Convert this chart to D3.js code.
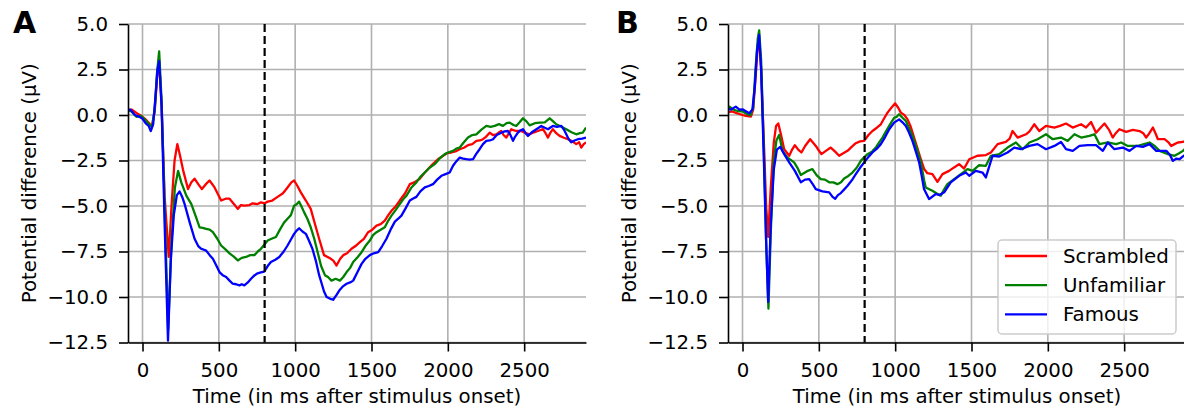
<!DOCTYPE html>
<html>
<head>
<meta charset="utf-8">
<script src="https://cdn.jsdelivr.net/npm/d3@7"></script>
<style>
  body { margin: 0; background: #fff; }
  svg { display: block; font-family: "DejaVu Sans", sans-serif; }
</style>
</head>
<body>
<svg width="1184" height="412"></svg>
<script>
const seriesNames = ["Scrambled", "Unfamiliar", "Famous"];
const seriesColors = ["#ff0000", "#008000", "#0000ff"];
const xTicks = [0, 500, 1000, 1500, 2000, 2500];
const yTicks = [5, 2.5, 0, -2.5, -5, -7.5, -10, -12.5];
const onsetMs = 800;

// panel A, [time in ms, µV]
const scrambledA = [[-100,0.25],[-72,0.3],[-28,0.05],[0,-0.1],[15,-0.2],[48,-0.5],[62,-0.6],[80,0.2],[95,2.0],[109,3.05],[125,0.5],[145,-4.5],[172,-7.8],[190,-5],[210,-2.5],[228,-1.6],[245,-2.2],[265,-3.0],[298,-4.07],[320,-3.7],[341,-3.5],[365,-3.8],[389,-4.07],[415,-3.8],[439,-3.6],[472,-3.98],[515,-4.7],[545,-4.6],[570,-4.6],[600,-4.9],[624,-5.16],[645,-4.95],[667,-4.98],[700,-4.95],[722,-4.85],[750,-4.9],[776,-4.8],[800,-4.85],[820,-4.76],[850,-4.7],[885,-4.5],[920,-4.3],[950,-3.98],[975,-3.7],[993,-3.6],[1015,-3.9],[1037,-4.25],[1070,-4.7],[1102,-5.16],[1130,-6.0],[1157,-6.8],[1189,-7.7],[1228,-7.87],[1250,-8.0],[1271,-8.27],[1295,-7.9],[1315,-7.7],[1340,-7.6],[1369,-7.35],[1395,-7.2],[1424,-6.99],[1450,-6.8],[1478,-6.44],[1505,-6.3],[1533,-6.08],[1560,-6.0],[1587,-5.8],[1610,-5.5],[1631,-5.26],[1660,-5.0],[1685,-4.7],[1720,-4.3],[1751,-3.8],[1780,-3.7],[1816,-3.5],[1845,-3.2],[1871,-2.97],[1895,-2.75],[1914,-2.6],[1940,-2.4],[1969,-2.24],[1995,-2.1],[2023,-2.06],[2050,-2.0],[2078,-1.88],[2105,-1.8],[2132,-1.66],[2160,-1.6],[2187,-1.42],[2210,-1.4],[2230,-1.33],[2250,-1.2],[2274,-0.97],[2295,-1.1],[2318,-1.06],[2335,-0.95],[2350,-0.88],[2365,-1.1],[2383,-1.24],[2400,-1.0],[2416,-0.78],[2435,-0.85],[2448,-0.88],[2481,-0.88],[2510,-1.0],[2536,-1.06],[2565,-0.95],[2590,-0.88],[2623,-0.78],[2640,-1.0],[2656,-1.24],[2670,-1.0],[2688,-0.78],[2710,-1.0],[2732,-1.15],[2760,-1.25],[2787,-1.33],[2815,-1.45],[2841,-1.6],[2860,-1.5],[2874,-1.79],[2890,-1.6],[2905,-1.5]];
const unfamiliarA = [[-100,0.25],[-72,0.2],[-40,-0.1],[-10,-0.05],[15,-0.25],[48,-0.55],[62,-0.65],[80,0.3],[95,2.3],[109,3.5],[125,0.8],[145,-5],[168,-11.8],[190,-7],[212,-4],[233,-3.07],[254,-3.7],[287,-4.43],[320,-4.9],[350,-5.6],[374,-6.17],[395,-6.2],[417,-6.26],[440,-6.3],[461,-6.44],[490,-6.8],[515,-7.17],[545,-7.4],[570,-7.6],[600,-7.8],[624,-7.99],[650,-7.85],[678,-7.8],[705,-7.7],[733,-7.7],[755,-7.5],[776,-7.35],[800,-7.1],[820,-6.9],[845,-6.8],[874,-6.7],[900,-6.3],[928,-5.9],[950,-5.7],[972,-5.5],[993,-4.98],[1010,-4.9],[1026,-4.76],[1040,-5.0],[1059,-5.35],[1080,-5.7],[1102,-6.17],[1125,-6.8],[1146,-7.5],[1170,-8.3],[1195,-8.8],[1215,-8.9],[1238,-9.1],[1265,-9.0],[1293,-9.1],[1315,-8.9],[1337,-8.63],[1360,-8.4],[1380,-8.08],[1410,-7.8],[1435,-7.54],[1460,-7.2],[1489,-6.9],[1510,-6.6],[1533,-6.44],[1560,-6.3],[1587,-6.17],[1610,-5.8],[1631,-5.53],[1660,-5.2],[1685,-4.9],[1710,-4.6],[1729,-4.43],[1760,-4.0],[1794,-3.7],[1820,-3.4],[1849,-3.16],[1880,-2.9],[1914,-2.7],[1945,-2.4],[1980,-2.15],[2005,-2.05],[2034,-1.97],[2055,-1.85],[2078,-1.79],[2105,-1.5],[2132,-1.24],[2160,-1.1],[2187,-1.06],[2220,-0.8],[2252,-0.6],[2280,-0.65],[2307,-0.6],[2335,-0.5],[2361,-0.6],[2385,-0.45],[2405,-0.42],[2430,-0.55],[2448,-0.6],[2470,-0.4],[2492,-0.18],[2515,-0.35],[2536,-0.57],[2570,-0.45],[2601,-0.42],[2635,-0.4],[2667,-0.18],[2690,-0.35],[2710,-0.51],[2745,-0.65],[2776,-0.78],[2810,-0.95],[2841,-1.06],[2865,-1.0],[2884,-0.97],[2905,-0.69]];
const famousA = [[-100,0.25],[-80,0.3],[-50,0.0],[-20,-0.1],[0,-0.2],[20,-0.45],[40,-0.6],[54,-0.88],[70,-0.5],[85,1.0],[98,2.5],[109,2.96],[125,0.5],[145,-6],[167,-12.4],[185,-8],[205,-5.5],[225,-4.4],[243,-4.2],[260,-4.5],[276,-4.9],[309,-5.9],[341,-6.8],[365,-7.2],[385,-7.35],[417,-7.45],[440,-7.7],[461,-7.9],[485,-8.3],[504,-8.63],[525,-8.8],[548,-8.9],[570,-9.1],[591,-9.27],[613,-9.3],[635,-9.36],[650,-9.3],[667,-9.36],[690,-9.2],[711,-9.0],[735,-8.8],[754,-8.7],[775,-8.65],[798,-8.6],[820,-8.3],[841,-8.08],[870,-7.95],[896,-7.8],[925,-7.5],[950,-7.17],[975,-6.8],[993,-6.53],[1010,-6.35],[1026,-6.22],[1048,-6.4],[1070,-6.53],[1090,-6.9],[1113,-7.35],[1135,-8.0],[1157,-8.8],[1175,-9.3],[1189,-9.7],[1206,-10.0],[1230,-10.1],[1249,-10.15],[1270,-9.9],[1293,-9.6],[1315,-9.4],[1337,-9.27],[1360,-9.2],[1380,-9.1],[1410,-8.6],[1435,-8.18],[1460,-7.9],[1489,-7.7],[1515,-7.6],[1544,-7.54],[1570,-7.2],[1598,-6.8],[1625,-6.3],[1653,-5.86],[1675,-5.7],[1696,-5.53],[1725,-5.1],[1751,-4.7],[1770,-4.6],[1794,-4.5],[1820,-4.2],[1849,-3.98],[1875,-3.9],[1903,-3.8],[1930,-3.55],[1958,-3.34],[1985,-3.25],[2012,-3.16],[2034,-2.79],[2055,-2.55],[2078,-2.34],[2100,-2.4],[2121,-2.43],[2143,-2.45],[2165,-2.43],[2185,-2.15],[2208,-1.88],[2230,-1.6],[2252,-1.42],[2275,-1.4],[2296,-1.33],[2320,-1.1],[2350,-0.97],[2372,-0.9],[2394,-0.88],[2410,-1.1],[2427,-1.42],[2440,-1.2],[2459,-0.97],[2475,-0.85],[2492,-0.78],[2510,-1.0],[2525,-1.15],[2550,-0.95],[2580,-0.78],[2595,-0.7],[2612,-0.6],[2635,-0.7],[2656,-0.78],[2670,-0.7],[2688,-0.6],[2715,-0.65],[2743,-0.6],[2760,-0.8],[2776,-1.06],[2790,-1.3],[2808,-1.5],[2830,-1.4],[2852,-1.33],[2880,-1.3],[2905,-1.24]];

// panel B
const scrambledB = [[-100,0.13],[-70,0.2],[-33,0.09],[0,0.0],[22,-0.05],[55,-0.09],[70,0.3],[85,2.0],[100,3.8],[109,4.14],[122,2.5],[140,-1.5],[155,-5],[168,-6.7],[185,-4],[205,-1.5],[220,-0.6],[234,-0.46],[250,-1.0],[273,-1.88],[306,-2.24],[325,-1.9],[343,-1.66],[365,-1.9],[386,-2.06],[410,-1.7],[443,-1.33],[460,-1.5],[480,-1.7],[500,-1.95],[517,-2.15],[546,-1.97],[578,-1.79],[605,-2.0],[633,-2.24],[660,-2.1],[688,-1.97],[715,-1.75],[742,-1.55],[770,-1.45],[797,-1.42],[825,-1.1],[851,-0.88],[880,-0.7],[906,-0.51],[930,-0.15],[950,0.13],[975,0.4],[1000,0.64],[1020,0.4],[1037,0.13],[1060,0.0],[1081,-0.24],[1100,-0.6],[1124,-1.24],[1145,-1.8],[1168,-2.43],[1190,-2.97],[1211,-3.2],[1244,-3.25],[1277,-3.67],[1310,-3.25],[1353,-3.07],[1386,-2.88],[1419,-2.7],[1452,-2.94],[1485,-2.43],[1539,-2.24],[1594,-2.2],[1627,-2.06],[1671,-1.6],[1725,-1.48],[1750,-1.3],[1769,-0.88],[1802,-1.24],[1857,-1.06],[1880,-0.9],[1911,-0.51],[1944,-0.88],[1988,-0.6],[2043,-0.69],[2080,-0.6],[2119,-0.47],[2163,-0.69],[2218,-0.51],[2250,-0.69],[2283,-0.38],[2316,-0.97],[2345,-0.7],[2371,-0.47],[2400,-0.8],[2425,-1.24],[2445,-1.0],[2469,-0.78],[2513,-0.93],[2557,-0.82],[2600,-0.88],[2625,-1.0],[2644,-1.24],[2665,-1.0],[2688,-0.69],[2705,-1.0],[2721,-1.33],[2765,-1.33],[2790,-1.5],[2808,-1.7],[2830,-1.6],[2852,-1.51],[2885,-1.48],[2905,-1.4]];
const unfamiliarB = [[-100,0.3],[-85,0.46],[-60,0.3],[-33,0.22],[0,0.2],[20,0.1],[50,-0.02],[70,0.4],[85,2.5],[100,4.2],[109,4.65],[122,3.0],[140,-2],[155,-7],[170,-10.64],[185,-6.5],[205,-2.5],[222,-1.4],[240,-1.1],[262,-1.97],[295,-2.34],[338,-2.6],[360,-2.9],[382,-3.3],[420,-3.1],[458,-2.97],[485,-3.3],[513,-3.52],[540,-3.55],[568,-3.7],[595,-3.7],[622,-3.8],[645,-3.7],[666,-3.49],[693,-3.35],[720,-3.16],[748,-2.9],[775,-2.52],[800,-2.3],[819,-2.15],[850,-2.0],[873,-1.79],[895,-1.5],[917,-1.24],[940,-0.9],[961,-0.6],[993,-0.15],[1010,-0.1],[1026,0.04],[1048,-0.15],[1070,-0.33],[1090,-0.7],[1113,-1.15],[1140,-1.8],[1168,-2.6],[1190,-3.6],[1200,-3.98],[1244,-4.16],[1270,-4.3],[1299,-4.43],[1320,-4.1],[1342,-3.8],[1386,-3.52],[1430,-3.25],[1474,-2.97],[1507,-3.07],[1550,-2.76],[1594,-2.79],[1627,-2.24],[1682,-2.15],[1736,-1.79],[1791,-1.51],[1835,-1.88],[1879,-1.51],[1933,-1.33],[1988,-1.06],[2032,-1.33],[2086,-1.24],[2130,-1.42],[2174,-1.06],[2218,-1.24],[2272,-1.15],[2305,-1.06],[2338,-1.6],[2393,-1.51],[2447,-1.6],[2480,-1.51],[2524,-1.7],[2590,-1.7],[2630,-1.6],[2666,-1.51],[2700,-1.7],[2732,-1.97],[2787,-2.15],[2830,-2.24],[2860,-2.1],[2885,-1.97],[2905,-1.8]];
const famousB = [[-100,0.35],[-75,0.3],[-44,0.46],[-20,0.3],[0,0.31],[22,0.2],[44,0.09],[65,0.31],[80,1.5],[95,3.5],[109,4.4],[122,2.5],[140,-2.5],[155,-7],[168,-10.27],[185,-6],[205,-3],[225,-1.9],[247,-1.75],[273,-2.15],[306,-2.6],[343,-3.07],[382,-3.7],[410,-3.55],[437,-3.52],[460,-3.8],[480,-4.07],[524,-4.2],[568,-4.25],[590,-4.5],[607,-4.6],[625,-4.4],[644,-4.29],[665,-4.1],[688,-3.89],[715,-3.6],[742,-3.25],[770,-2.9],[797,-2.6],[825,-2.3],[851,-2.06],[880,-1.85],[906,-1.6],[935,-1.2],[961,-0.78],[993,-0.42],[1026,-0.24],[1048,-0.4],[1070,-0.6],[1090,-0.95],[1113,-1.42],[1135,-2.0],[1157,-2.6],[1175,-3.4],[1189,-4.07],[1222,-4.62],[1266,-4.34],[1290,-4.4],[1321,-4.25],[1364,-3.7],[1419,-3.34],[1463,-3.16],[1485,-3.34],[1528,-3.07],[1572,-3.16],[1594,-3.43],[1638,-2.24],[1682,-2.28],[1736,-2.06],[1780,-1.79],[1824,-1.88],[1879,-1.7],[1933,-1.6],[1988,-1.88],[2043,-1.7],[2086,-1.48],[2119,-1.88],[2163,-1.97],[2207,-1.7],[2261,-1.66],[2316,-1.66],[2360,-1.97],[2393,-1.51],[2436,-1.88],[2491,-1.79],[2535,-1.97],[2579,-1.7],[2622,-1.75],[2666,-1.6],[2710,-1.97],[2776,-1.97],[2800,-2.2],[2819,-2.52],[2840,-2.4],[2863,-2.43],[2889,-2.24],[2905,-2.2]];

const panels = [
  { letter: "A", left: 128, letterX: -115, series: [scrambledA, unfamiliarA, famousA], legend: false },
  { letter: "B", left: 728, letterX: -112, series: [scrambledB, unfamiliarB, famousB], legend: true },
];

const W = 458, TOP = 24, BOTTOM = 342.5;
const FONT = "19.8px";

const svg = d3.select("svg");
const x = d3.scaleLinear().domain([-95, 2905]).range([0, W]);
const y = d3.scaleLinear().domain([-12.5, 5]).range([BOTTOM, TOP]);

const line = d3.line()
  .x(d => x(d[0]))
  .y(d => y(d[1]));

panels.forEach((p, i) => {
  const g = svg.append("g").attr("transform", `translate(${p.left},0)`);

  g.append("clipPath").attr("id", "clip" + i)
    .append("rect").attr("x", 0).attr("y", TOP - 5).attr("width", W).attr("height", BOTTOM - TOP + 10);

  //grid
  g.append("g").selectAll("line").data(xTicks).join("line")
    .attr("x1", d => x(d)).attr("x2", d => x(d))
    .attr("y1", TOP).attr("y2", BOTTOM)
    .attr("stroke", "#b0b0b0").attr("stroke-width", 1.6);
  g.append("g").selectAll("line").data(yTicks).join("line")
    .attr("x1", 0).attr("x2", W)
    .attr("y1", d => y(d)).attr("y2", d => y(d))
    .attr("stroke", "#b0b0b0").attr("stroke-width", 1.6);

  //curves
  const curves = g.append("g").attr("clip-path", `url(#clip${i})`);
  curves.selectAll("path").data(p.series).join("path")
    .attr("d", line)
    .attr("fill", "none")
    .attr("stroke", (d, k) => seriesColors[k])
    .attr("stroke-width", 2.3)
    .attr("stroke-linejoin", "round");

  //stimulus offset
  g.append("line")
    .attr("x1", x(onsetMs)).attr("x2", x(onsetMs))
    .attr("y1", TOP).attr("y2", BOTTOM)
    .attr("stroke", "#000").attr("stroke-width", 2.2)
    .attr("stroke-dasharray", "8,4");

  //axes
  const yAxis = g.append("g")
    .call(d3.axisLeft(y).tickValues(yTicks).tickSize(9).tickSizeOuter(0).tickPadding(11)
      .tickFormat(d3.format(".1f")));
  const xAxis = g.append("g").attr("transform", `translate(0,${BOTTOM})`)
    .call(d3.axisBottom(x).tickValues(xTicks).tickSize(9).tickSizeOuter(0)
      .tickFormat(d3.format("d")));
  [yAxis, xAxis].forEach(a => {
    a.select(".domain").attr("stroke", "#000").attr("stroke-width", 1.6);
    a.selectAll(".tick line").attr("stroke", "#000").attr("stroke-width", 1.6);
    a.selectAll("text").attr("fill", "#000").style("font-size", FONT)
      .style("font-family", '"DejaVu Sans", sans-serif');
  });
  xAxis.selectAll("text").attr("y", 34.2).attr("dy", null);

  g.append("text")
    .attr("x", W / 2).attr("y", 403)
    .attr("text-anchor", "middle")
    .style("font-size", FONT)
    .text("Time (in ms after stimulus onset)");

  g.append("text")
    .attr("transform", `translate(-92,${(TOP + BOTTOM) / 2}) rotate(-90)`)
    .attr("text-anchor", "middle")
    .style("font-size", FONT)
    .text("Potential difference (µV)");

  g.append("text")
    .attr("x", p.letterX).attr("y", 33)
    .style("font-size", "30px").style("font-weight", "bold")
    .text(p.letter);

  if (p.legend) {
    const lg = svg.append("g").attr("transform", "translate(998,240)");
    lg.append("rect")
      .attr("width", 178).attr("height", 94).attr("rx", 4)
      .attr("fill", "#fff").attr("fill-opacity", 0.8)
      .attr("stroke", "#cccccc").attr("stroke-width", 1.5);
    const rows = lg.selectAll("g.row").data(seriesNames).join("g")
      .attr("class", "row")
      .attr("transform", (d, k) => `translate(0,${16 + k * 29.2})`);
    rows.append("line")
      .attr("x1", 7).attr("x2", 49)
      .attr("stroke", (d, k) => seriesColors[k]).attr("stroke-width", 2.3);
    rows.append("text")
      .attr("x", 65).attr("dy", "0.35em")
      .style("font-size", FONT)
      .text(d => d);
  }
});
</script>
</body>
</html>
